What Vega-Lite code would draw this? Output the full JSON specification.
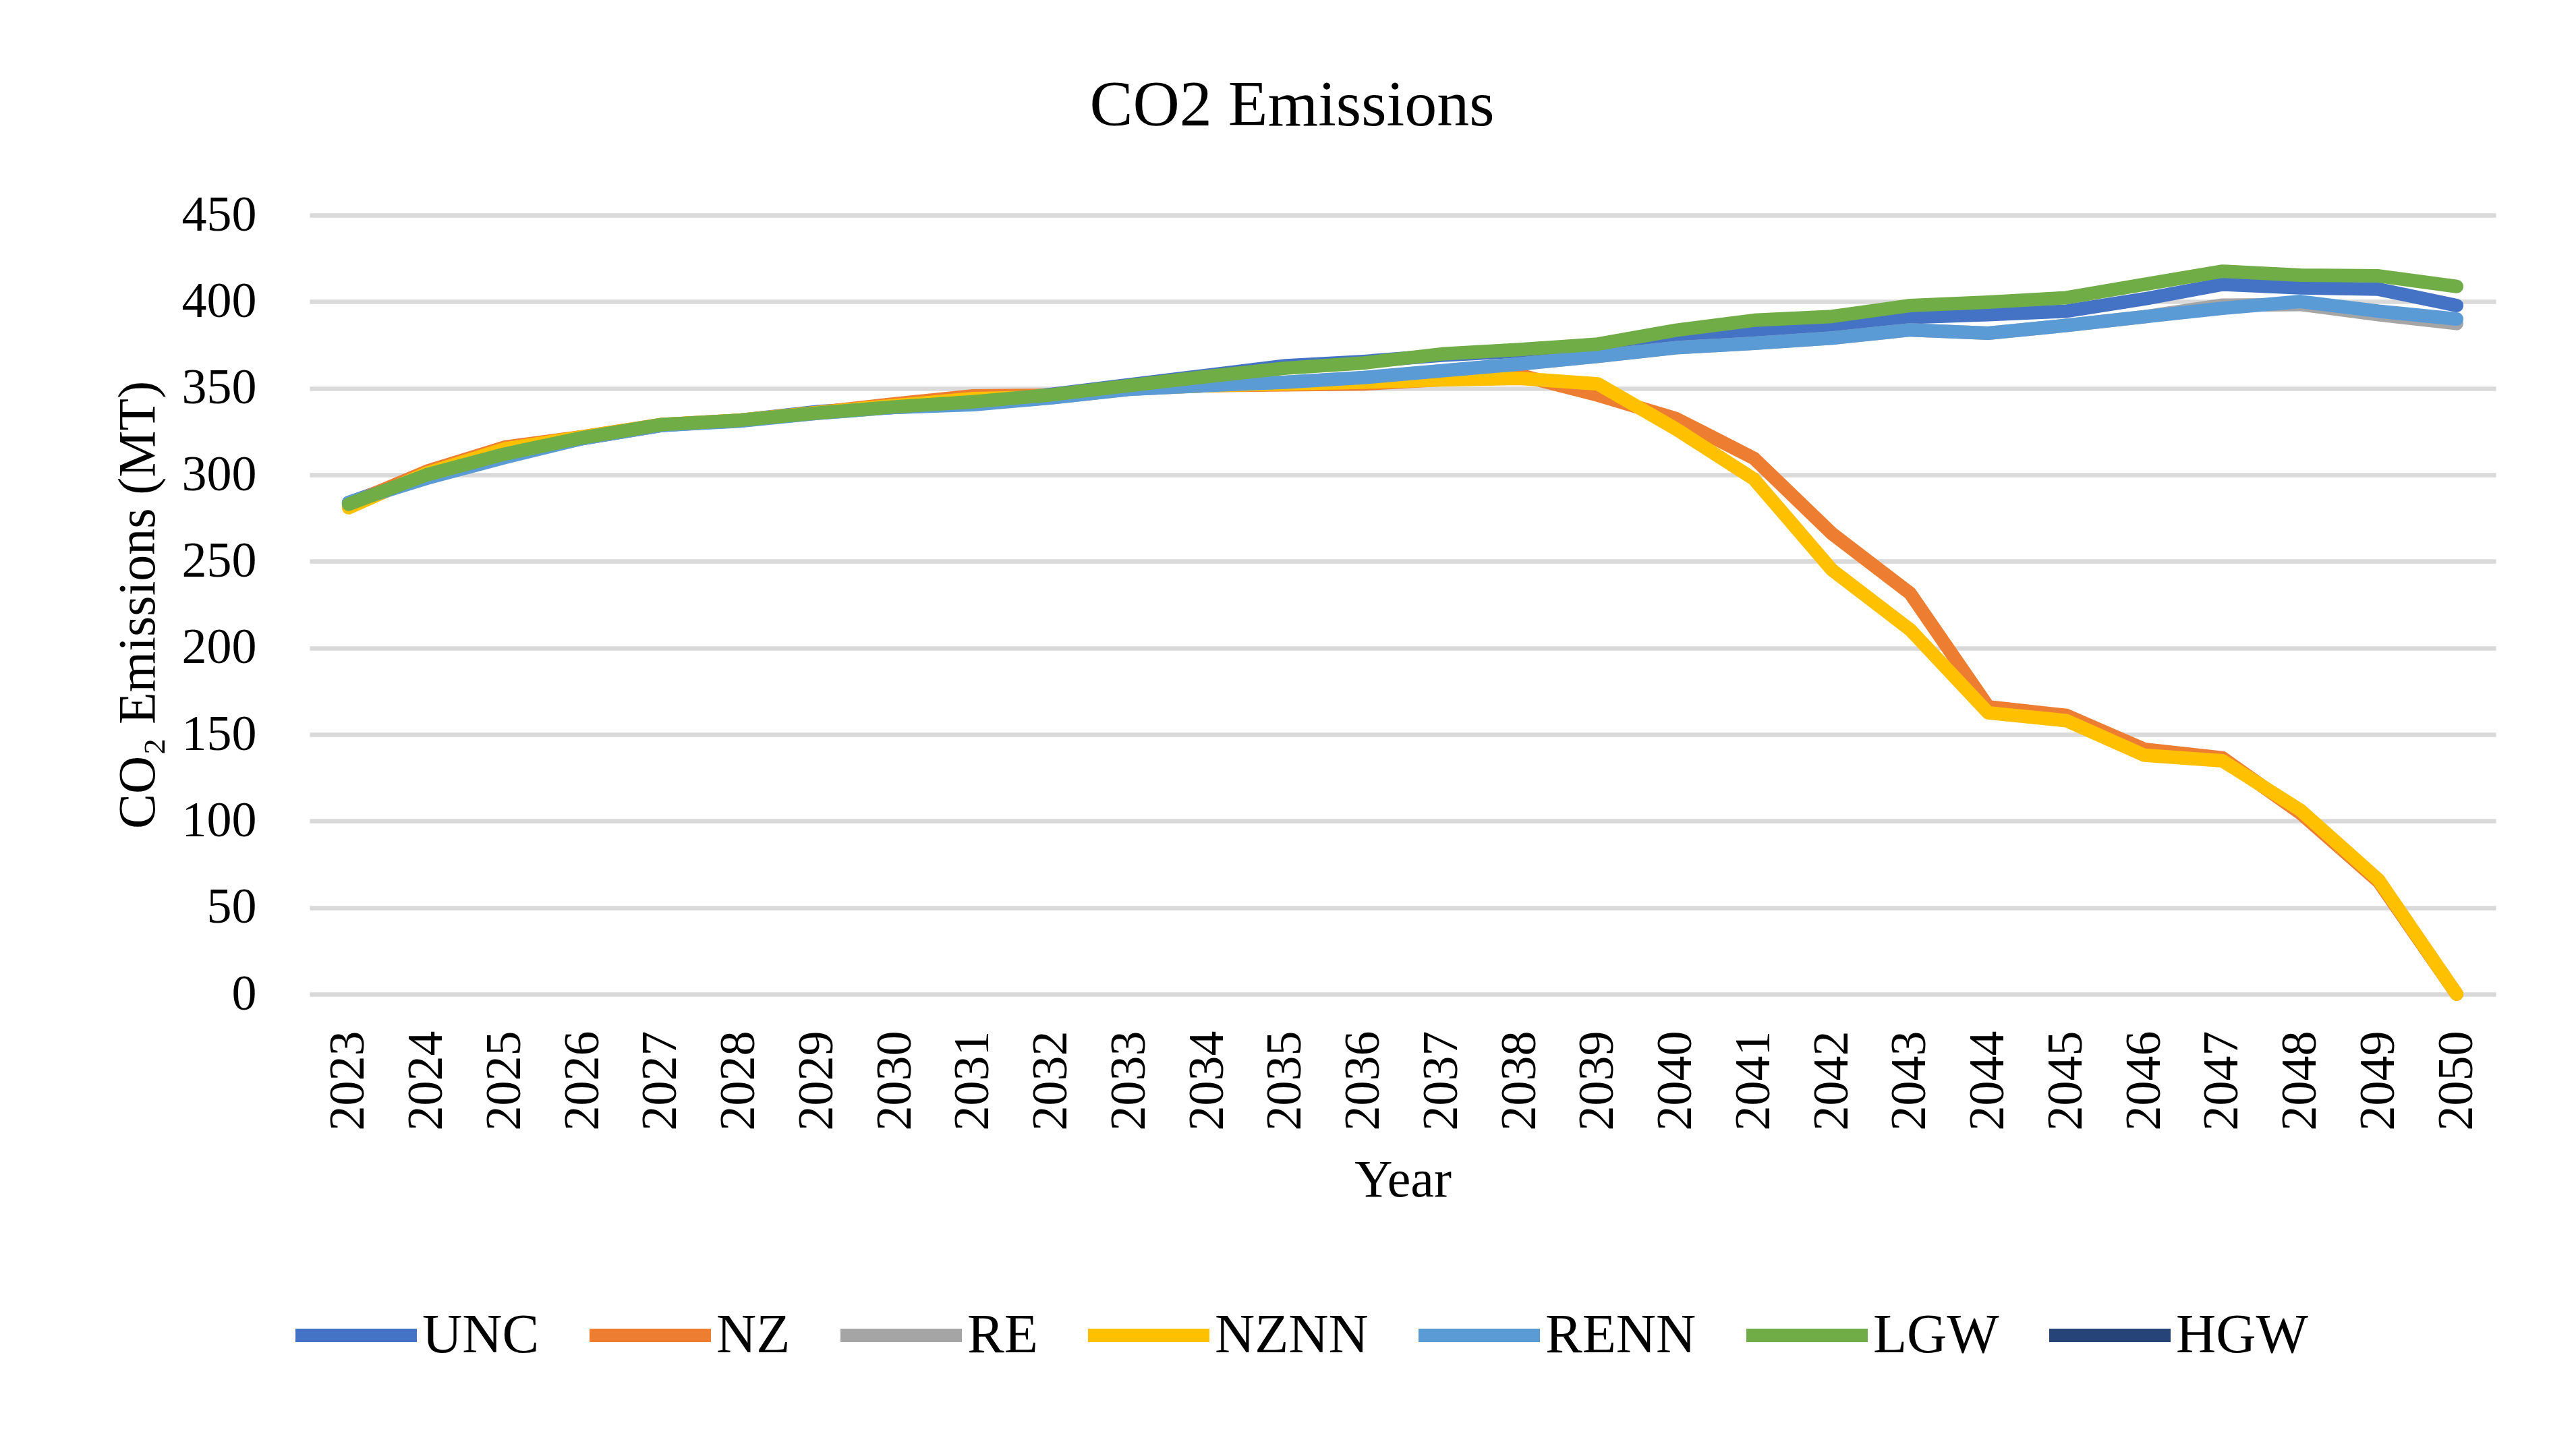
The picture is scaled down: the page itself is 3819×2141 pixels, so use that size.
{
  "$schema": "https://vega.github.io/schema/vega-lite/v6.json",
  "autosize": {"type": "none"},
  "padding": {"left": 459, "top": 319, "right": 119, "bottom": 667},
  "width": 3241,
  "height": 1155,
  "background": "white",
  "title": {
    "text": "CO2 Emissions",
    "font": "Liberation Serif",
    "fontSize": 96,
    "fontWeight": "normal",
    "color": "black",
    "anchor": "middle",
    "frame": "group",
    "dx": -164,
    "baseline": "alphabetic",
    "offset": 0
  },
  "data": {
    "values": [
      {"Year": "2023", "Scenario": "UNC", "Emissions": 284},
      {"Year": "2024", "Scenario": "UNC", "Emissions": 300},
      {"Year": "2025", "Scenario": "UNC", "Emissions": 312},
      {"Year": "2026", "Scenario": "UNC", "Emissions": 321},
      {"Year": "2027", "Scenario": "UNC", "Emissions": 328.5},
      {"Year": "2028", "Scenario": "UNC", "Emissions": 331.5},
      {"Year": "2029", "Scenario": "UNC", "Emissions": 336.5},
      {"Year": "2030", "Scenario": "UNC", "Emissions": 339},
      {"Year": "2031", "Scenario": "UNC", "Emissions": 342},
      {"Year": "2032", "Scenario": "UNC", "Emissions": 346.5},
      {"Year": "2033", "Scenario": "UNC", "Emissions": 352},
      {"Year": "2034", "Scenario": "UNC", "Emissions": 357.5},
      {"Year": "2035", "Scenario": "UNC", "Emissions": 363},
      {"Year": "2036", "Scenario": "UNC", "Emissions": 365.5},
      {"Year": "2037", "Scenario": "UNC", "Emissions": 369},
      {"Year": "2038", "Scenario": "UNC", "Emissions": 371.5},
      {"Year": "2039", "Scenario": "UNC", "Emissions": 374},
      {"Year": "2040", "Scenario": "UNC", "Emissions": 380},
      {"Year": "2041", "Scenario": "UNC", "Emissions": 383},
      {"Year": "2042", "Scenario": "UNC", "Emissions": 385.5},
      {"Year": "2043", "Scenario": "UNC", "Emissions": 391},
      {"Year": "2044", "Scenario": "UNC", "Emissions": 392.5},
      {"Year": "2045", "Scenario": "UNC", "Emissions": 394.5},
      {"Year": "2046", "Scenario": "UNC", "Emissions": 401.6},
      {"Year": "2047", "Scenario": "UNC", "Emissions": 410},
      {"Year": "2048", "Scenario": "UNC", "Emissions": 408},
      {"Year": "2049", "Scenario": "UNC", "Emissions": 407.2},
      {"Year": "2050", "Scenario": "UNC", "Emissions": 397.8},

      {"Year": "2023", "Scenario": "NZ", "Emissions": 283},
      {"Year": "2024", "Scenario": "NZ", "Emissions": 302},
      {"Year": "2025", "Scenario": "NZ", "Emissions": 316},
      {"Year": "2026", "Scenario": "NZ", "Emissions": 322},
      {"Year": "2027", "Scenario": "NZ", "Emissions": 329},
      {"Year": "2028", "Scenario": "NZ", "Emissions": 331.5},
      {"Year": "2029", "Scenario": "NZ", "Emissions": 336},
      {"Year": "2030", "Scenario": "NZ", "Emissions": 341},
      {"Year": "2031", "Scenario": "NZ", "Emissions": 345.6},
      {"Year": "2032", "Scenario": "NZ", "Emissions": 346},
      {"Year": "2033", "Scenario": "NZ", "Emissions": 350},
      {"Year": "2034", "Scenario": "NZ", "Emissions": 351.5},
      {"Year": "2035", "Scenario": "NZ", "Emissions": 352},
      {"Year": "2036", "Scenario": "NZ", "Emissions": 352.5},
      {"Year": "2037", "Scenario": "NZ", "Emissions": 355},
      {"Year": "2038", "Scenario": "NZ", "Emissions": 357.6},
      {"Year": "2039", "Scenario": "NZ", "Emissions": 346},
      {"Year": "2040", "Scenario": "NZ", "Emissions": 332.5},
      {"Year": "2041", "Scenario": "NZ", "Emissions": 309.5},
      {"Year": "2042", "Scenario": "NZ", "Emissions": 266},
      {"Year": "2043", "Scenario": "NZ", "Emissions": 231.5},
      {"Year": "2044", "Scenario": "NZ", "Emissions": 166},
      {"Year": "2045", "Scenario": "NZ", "Emissions": 161},
      {"Year": "2046", "Scenario": "NZ", "Emissions": 141.5},
      {"Year": "2047", "Scenario": "NZ", "Emissions": 136.5},
      {"Year": "2048", "Scenario": "NZ", "Emissions": 104.5},
      {"Year": "2049", "Scenario": "NZ", "Emissions": 65},
      {"Year": "2050", "Scenario": "NZ", "Emissions": 0},

      {"Year": "2023", "Scenario": "RE", "Emissions": 283},
      {"Year": "2024", "Scenario": "RE", "Emissions": 299},
      {"Year": "2025", "Scenario": "RE", "Emissions": 311},
      {"Year": "2026", "Scenario": "RE", "Emissions": 321},
      {"Year": "2027", "Scenario": "RE", "Emissions": 328.5},
      {"Year": "2028", "Scenario": "RE", "Emissions": 331.5},
      {"Year": "2029", "Scenario": "RE", "Emissions": 335.5},
      {"Year": "2030", "Scenario": "RE", "Emissions": 339},
      {"Year": "2031", "Scenario": "RE", "Emissions": 341},
      {"Year": "2032", "Scenario": "RE", "Emissions": 344.5},
      {"Year": "2033", "Scenario": "RE", "Emissions": 349.5},
      {"Year": "2034", "Scenario": "RE", "Emissions": 351.5},
      {"Year": "2035", "Scenario": "RE", "Emissions": 353.5},
      {"Year": "2036", "Scenario": "RE", "Emissions": 356},
      {"Year": "2037", "Scenario": "RE", "Emissions": 360},
      {"Year": "2038", "Scenario": "RE", "Emissions": 364},
      {"Year": "2039", "Scenario": "RE", "Emissions": 368.5},
      {"Year": "2040", "Scenario": "RE", "Emissions": 373.4},
      {"Year": "2041", "Scenario": "RE", "Emissions": 376},
      {"Year": "2042", "Scenario": "RE", "Emissions": 379},
      {"Year": "2043", "Scenario": "RE", "Emissions": 383.7},
      {"Year": "2044", "Scenario": "RE", "Emissions": 381.8},
      {"Year": "2045", "Scenario": "RE", "Emissions": 386.3},
      {"Year": "2046", "Scenario": "RE", "Emissions": 391.3},
      {"Year": "2047", "Scenario": "RE", "Emissions": 398},
      {"Year": "2048", "Scenario": "RE", "Emissions": 398.4},
      {"Year": "2049", "Scenario": "RE", "Emissions": 392.5},
      {"Year": "2050", "Scenario": "RE", "Emissions": 387.4},

      {"Year": "2023", "Scenario": "NZNN", "Emissions": 281},
      {"Year": "2024", "Scenario": "NZNN", "Emissions": 301},
      {"Year": "2025", "Scenario": "NZNN", "Emissions": 315},
      {"Year": "2026", "Scenario": "NZNN", "Emissions": 322},
      {"Year": "2027", "Scenario": "NZNN", "Emissions": 329},
      {"Year": "2028", "Scenario": "NZNN", "Emissions": 331.5},
      {"Year": "2029", "Scenario": "NZNN", "Emissions": 336},
      {"Year": "2030", "Scenario": "NZNN", "Emissions": 340},
      {"Year": "2031", "Scenario": "NZNN", "Emissions": 344},
      {"Year": "2032", "Scenario": "NZNN", "Emissions": 345},
      {"Year": "2033", "Scenario": "NZNN", "Emissions": 350},
      {"Year": "2034", "Scenario": "NZNN", "Emissions": 351.5},
      {"Year": "2035", "Scenario": "NZNN", "Emissions": 352.5},
      {"Year": "2036", "Scenario": "NZNN", "Emissions": 353.5},
      {"Year": "2037", "Scenario": "NZNN", "Emissions": 354.8},
      {"Year": "2038", "Scenario": "NZNN", "Emissions": 355.7},
      {"Year": "2039", "Scenario": "NZNN", "Emissions": 352.5},
      {"Year": "2040", "Scenario": "NZNN", "Emissions": 326.5},
      {"Year": "2041", "Scenario": "NZNN", "Emissions": 297.5},
      {"Year": "2042", "Scenario": "NZNN", "Emissions": 245},
      {"Year": "2043", "Scenario": "NZNN", "Emissions": 210.5},
      {"Year": "2044", "Scenario": "NZNN", "Emissions": 162.5},
      {"Year": "2045", "Scenario": "NZNN", "Emissions": 158},
      {"Year": "2046", "Scenario": "NZNN", "Emissions": 138},
      {"Year": "2047", "Scenario": "NZNN", "Emissions": 134.8},
      {"Year": "2048", "Scenario": "NZNN", "Emissions": 106.2},
      {"Year": "2049", "Scenario": "NZNN", "Emissions": 66},
      {"Year": "2050", "Scenario": "NZNN", "Emissions": 0},

      {"Year": "2023", "Scenario": "RENN", "Emissions": 284},
      {"Year": "2024", "Scenario": "RENN", "Emissions": 298},
      {"Year": "2025", "Scenario": "RENN", "Emissions": 310},
      {"Year": "2026", "Scenario": "RENN", "Emissions": 321},
      {"Year": "2027", "Scenario": "RENN", "Emissions": 328.5},
      {"Year": "2028", "Scenario": "RENN", "Emissions": 331},
      {"Year": "2029", "Scenario": "RENN", "Emissions": 335.5},
      {"Year": "2030", "Scenario": "RENN", "Emissions": 339},
      {"Year": "2031", "Scenario": "RENN", "Emissions": 340.5},
      {"Year": "2032", "Scenario": "RENN", "Emissions": 344.5},
      {"Year": "2033", "Scenario": "RENN", "Emissions": 349.4},
      {"Year": "2034", "Scenario": "RENN", "Emissions": 351.6},
      {"Year": "2035", "Scenario": "RENN", "Emissions": 353.5},
      {"Year": "2036", "Scenario": "RENN", "Emissions": 356.2},
      {"Year": "2037", "Scenario": "RENN", "Emissions": 360.1},
      {"Year": "2038", "Scenario": "RENN", "Emissions": 364},
      {"Year": "2039", "Scenario": "RENN", "Emissions": 368.5},
      {"Year": "2040", "Scenario": "RENN", "Emissions": 373.4},
      {"Year": "2041", "Scenario": "RENN", "Emissions": 376},
      {"Year": "2042", "Scenario": "RENN", "Emissions": 379},
      {"Year": "2043", "Scenario": "RENN", "Emissions": 383.7},
      {"Year": "2044", "Scenario": "RENN", "Emissions": 381.8},
      {"Year": "2045", "Scenario": "RENN", "Emissions": 386.3},
      {"Year": "2046", "Scenario": "RENN", "Emissions": 391.3},
      {"Year": "2047", "Scenario": "RENN", "Emissions": 396.2},
      {"Year": "2048", "Scenario": "RENN", "Emissions": 400.1},
      {"Year": "2049", "Scenario": "RENN", "Emissions": 394.5},
      {"Year": "2050", "Scenario": "RENN", "Emissions": 390},

      {"Year": "2023", "Scenario": "LGW", "Emissions": 283},
      {"Year": "2024", "Scenario": "LGW", "Emissions": 300},
      {"Year": "2025", "Scenario": "LGW", "Emissions": 312},
      {"Year": "2026", "Scenario": "LGW", "Emissions": 321.5},
      {"Year": "2027", "Scenario": "LGW", "Emissions": 329},
      {"Year": "2028", "Scenario": "LGW", "Emissions": 331.5},
      {"Year": "2029", "Scenario": "LGW", "Emissions": 335.7},
      {"Year": "2030", "Scenario": "LGW", "Emissions": 339.3},
      {"Year": "2031", "Scenario": "LGW", "Emissions": 342.2},
      {"Year": "2032", "Scenario": "LGW", "Emissions": 346.2},
      {"Year": "2033", "Scenario": "LGW", "Emissions": 351.6},
      {"Year": "2034", "Scenario": "LGW", "Emissions": 356.8},
      {"Year": "2035", "Scenario": "LGW", "Emissions": 361.6},
      {"Year": "2036", "Scenario": "LGW", "Emissions": 364.6},
      {"Year": "2037", "Scenario": "LGW", "Emissions": 369.8},
      {"Year": "2038", "Scenario": "LGW", "Emissions": 372.4},
      {"Year": "2039", "Scenario": "LGW", "Emissions": 375.5},
      {"Year": "2040", "Scenario": "LGW", "Emissions": 383.5},
      {"Year": "2041", "Scenario": "LGW", "Emissions": 389.3},
      {"Year": "2042", "Scenario": "LGW", "Emissions": 391.5},
      {"Year": "2043", "Scenario": "LGW", "Emissions": 397.8},
      {"Year": "2044", "Scenario": "LGW", "Emissions": 399.7},
      {"Year": "2045", "Scenario": "LGW", "Emissions": 402.3},
      {"Year": "2046", "Scenario": "LGW", "Emissions": 410},
      {"Year": "2047", "Scenario": "LGW", "Emissions": 417.6},
      {"Year": "2048", "Scenario": "LGW", "Emissions": 415.3},
      {"Year": "2049", "Scenario": "LGW", "Emissions": 414.9},
      {"Year": "2050", "Scenario": "LGW", "Emissions": 408.8}
    ]
  },
  "mark": {"type": "line", "strokeWidth": 20, "strokeCap": "round", "strokeJoin": "round"},
  "encoding": {
    "x": {
      "field": "Year",
      "type": "ordinal",
      "scale": {"type": "point", "padding": 0.5},
      "axis": {
        "title": "Year",
        "labelAngle": -90,
        "labelFontSize": 74,
        "labelPadding": 54,
        "labelColor": "black",
        "ticks": false,
        "domain": false,
        "grid": false,
        "titleFontSize": 78,
        "titleFontWeight": "normal",
        "titleColor": "black",
        "titlePadding": 37
      }
    },
    "y": {
      "field": "Emissions",
      "type": "quantitative",
      "scale": {"domain": [0, 450], "nice": false, "zero": true},
      "axis": {
        "title": "CO₂ Emissions (MT)",
        "values": [0, 50, 100, 150, 200, 250, 300, 350, 400, 450],
        "labelFontSize": 74,
        "labelPadding": 79,
        "labelColor": "black",
        "ticks": false,
        "domain": false,
        "grid": true,
        "gridColor": "#D9D9D9",
        "gridWidth": 6.5,
        "titleFontSize": 78,
        "titleFontWeight": "normal",
        "titleColor": "black",
        "titlePadding": 25
      }
    },
    "color": {
      "field": "Scenario",
      "type": "nominal",
      "sort": null,
      "scale": {
        "domain": ["UNC", "NZ", "RE", "NZNN", "RENN", "LGW", "HGW"],
        "range": ["#4472C4", "#ED7D31", "#A5A5A5", "#FFC000", "#5B9BD5", "#70AD47", "#264478"]
      },
      "legend": {
        "title": null,
        "orient": "none",
        "legendX": -31,
        "legendY": 1561,
        "direction": "horizontal",
        "columns": 7,
        "columnPadding": 34,
        "symbolType": "stroke",
        "symbolSize": 32400,
        "symbolStrokeWidth": 20,
        "labelFontSize": 82,
        "labelLimit": 500,
        "labelColor": "black",
        "labelOffset": -2
      }
    }
  },
  "config": {
    "font": "Liberation Serif",
    "view": {"stroke": null}
  }
}
